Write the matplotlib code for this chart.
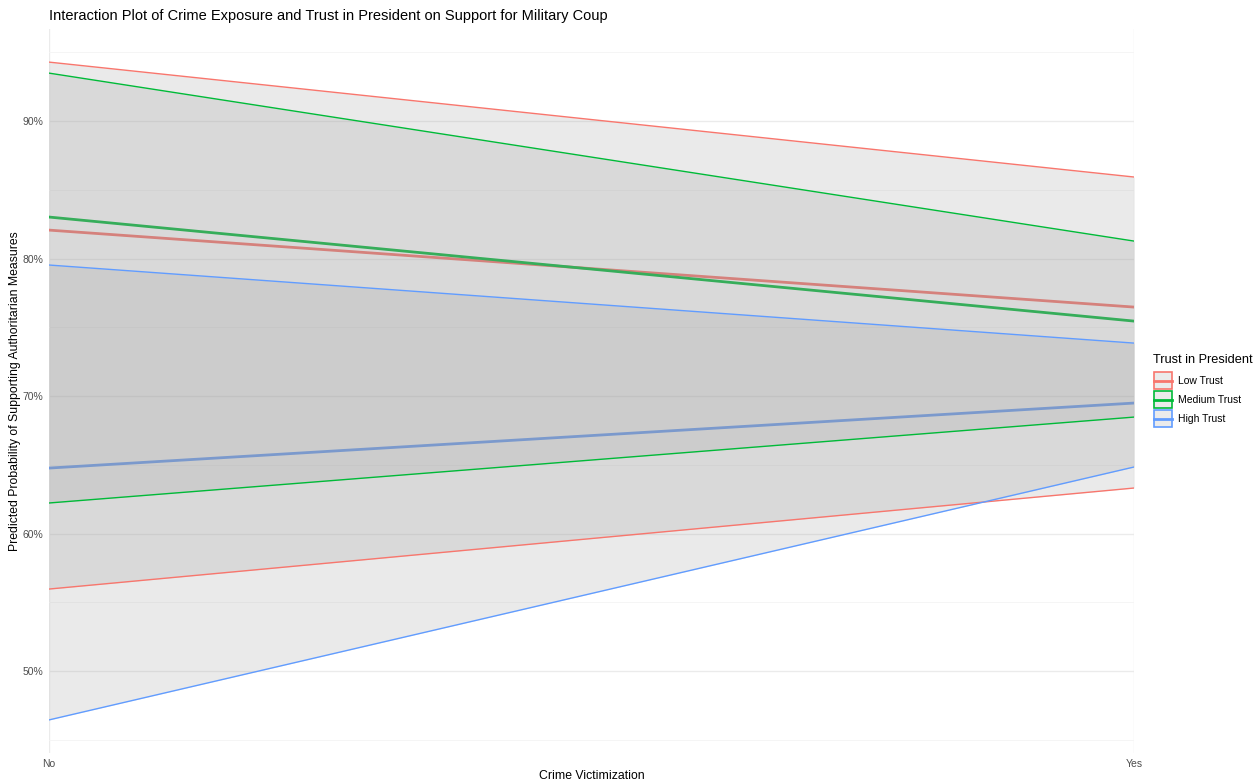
import matplotlib.pyplot as plt
from matplotlib.patches import Rectangle
from matplotlib.ticker import FuncFormatter, MultipleLocator

plt.rcParams['font.family'] = ['Liberation Sans', 'DejaVu Sans']

x_labels = ["No", "Yes"]
groups = ["Low Trust", "Medium Trust", "High Trust"]
colors = ["#F8766D", "#00BA38", "#619CFF"]

# predicted probabilities and 95% bounds, No -> Yes
fit = {
    "Low Trust": [0.8207, 0.7647],
    "Medium Trust": [0.8302, 0.7545],
    "High Trust": [0.6476, 0.6949],
}
lower = {
    "Low Trust": [0.5596, 0.6331],
    "Medium Trust": [0.6222, 0.6847],
    "High Trust": [0.4644, 0.6484],
}
upper = {
    "Low Trust": [0.9429, 0.8593],
    "Medium Trust": [0.9349, 0.8127],
    "High Trust": [0.7953, 0.7385],
}

W, H = 1255, 783
fig = plt.figure(figsize=(W / 100, H / 100), dpi=100)
ax = fig.add_axes([0.039, 0.0377, 0.8647, 0.9253])

x = [0, 1]
for g, c in zip(groups, colors):
    ax.plot(x, fit[g], color=c, lw=2.0, zorder=2)
for g, c in zip(groups, colors):
    ax.fill_between(x, lower[g], upper[g], color="#999999", alpha=0.2, lw=0, zorder=3)
    ax.plot(x, lower[g], color=c, lw=1.0, zorder=4)
    ax.plot(x, upper[g], color=c, lw=1.0, zorder=4)

ax.set_xlim(0, 1)
ax.set_ylim(0.440, 0.967)
ax.set_xticks(x)
ax.set_xticklabels(x_labels)
ax.yaxis.set_major_locator(MultipleLocator(0.1))
ax.yaxis.set_minor_locator(MultipleLocator(0.05))
ax.yaxis.set_major_formatter(FuncFormatter(lambda v, p: f"{v*100:.0f}%"))

ax.grid(True, which="major", color="#EBEBEB", lw=1.0, zorder=0)
ax.grid(True, which="minor", axis="y", color="#F4F4F4", lw=0.6, zorder=0)
ax.set_axisbelow(True)
for s in ax.spines.values():
    s.set_visible(False)
ax.tick_params(axis="both", which="both", length=0, labelsize=7.5, labelcolor="#4D4D4D", pad=4)

ax.set_xlabel("Crime Victimization", fontsize=8.8)
ax.xaxis.set_label_coords(0.5, -0.031)
ax.xaxis.label.set_va("center")
ax.set_ylabel("Predicted Probability of Supporting Authoritarian Measures", fontsize=8.8)
ax.yaxis.set_label_coords(-0.031, 0.5)
ax.yaxis.label.set_va("center")
fig.text(0.039, 1 - 16 / H, "Interaction Plot of Crime Exposure and Trust in President on Support for Military Coup",
         fontsize=10.5, ha="left", va="center")

# legend drawn in its own axes, laid out in pixel units
lax = fig.add_axes([1140 / W, 1 - 440 / H, 115 / W, 100 / H])
lax.set_xlim(1140, 1255)
lax.set_ylim(440, 340)
lax.axis("off")
lax.text(1153, 360, "Trust in President", fontsize=9.2, ha="left", va="center")
for i, (g, c) in enumerate(zip(groups, colors)):
    top = 372 + i * 19
    lax.add_patch(Rectangle((1153.5, top), 18, 17, facecolor="#EBEBEB", edgecolor=c, lw=1.2))
    lax.plot([1153.5, 1171.5], [top + 8.5, top + 8.5], color=c, lw=2)
    lax.text(1178, top + 9, g, fontsize=7.5, ha="left", va="center")

fig.savefig("out.png", dpi=100)
